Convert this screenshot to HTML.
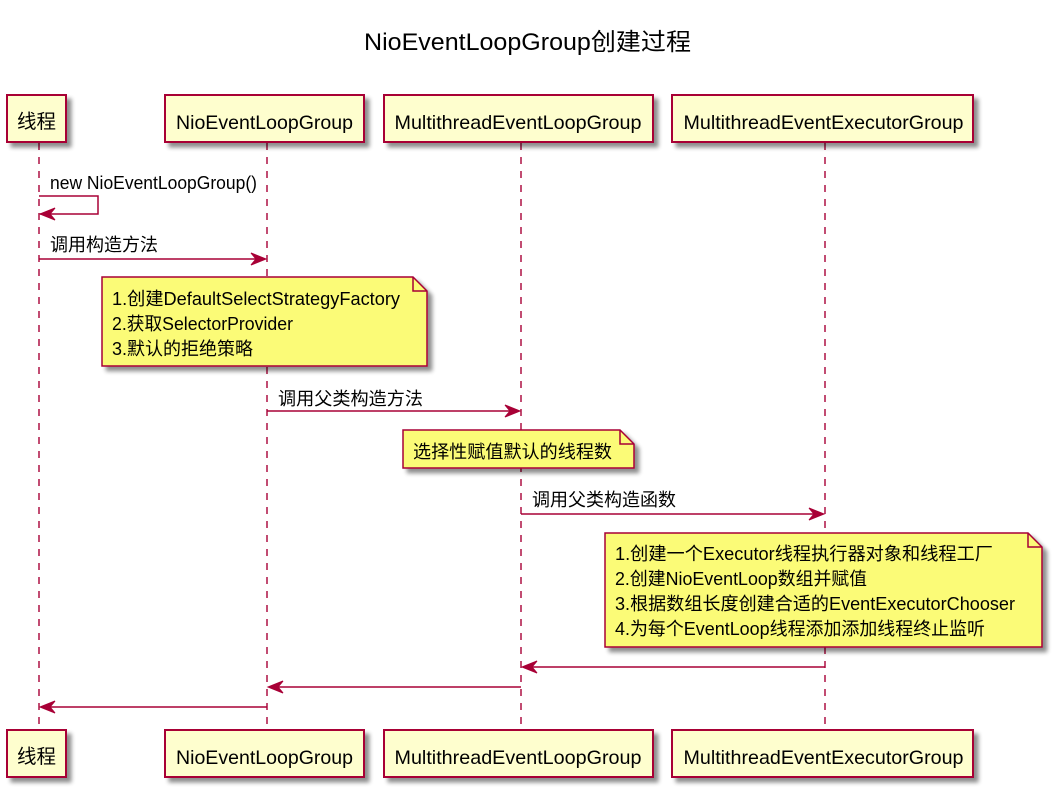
<!DOCTYPE html>
<html><head><meta charset="utf-8"><style>
html,body{margin:0;padding:0;background:#fff;}
svg{display:block;}
text{font-family:"Liberation Sans","Noto Sans CJK SC",sans-serif;fill:#000;}
</style></head><body>
<svg width="1054" height="796" viewBox="0 0 1054 796" xmlns="http://www.w3.org/2000/svg">
<defs>
<filter id="sh" x="-10%" y="-10%" width="130%" height="140%">
<feGaussianBlur in="SourceAlpha" stdDeviation="2.2"/>
<feOffset dx="4.5" dy="4.5" result="b"/>
<feComponentTransfer><feFuncA type="linear" slope="0.45"/></feComponentTransfer>
<feMerge><feMergeNode/><feMergeNode in="SourceGraphic"/></feMerge>
</filter>
</defs>

<text x="364" y="50" font-size="24" textLength="327" lengthAdjust="spacingAndGlyphs">NioEventLoopGroup创建过程</text>

<!-- lifelines -->
<g stroke="#A80036" stroke-width="1.4" stroke-dasharray="7,7" fill="none">
<line x1="39" y1="143" x2="39" y2="730"/>
<line x1="267" y1="143" x2="267" y2="730"/>
<line x1="521" y1="143" x2="521" y2="730"/>
<line x1="825" y1="143" x2="825" y2="730"/>
</g>

<!-- top participants -->
<g fill="#FEFECE" stroke="#A80036" stroke-width="2" filter="url(#sh)">
<rect x="7" y="95" width="59" height="47"/>
<rect x="165" y="95" width="199" height="47"/>
<rect x="384" y="95" width="269" height="47"/>
<rect x="672" y="95" width="301" height="47"/>
</g>
<text x="17" y="128" font-size="19.5" textLength="39" lengthAdjust="spacingAndGlyphs">线程</text>
<text x="176" y="129" font-size="19.5" textLength="177" lengthAdjust="spacingAndGlyphs">NioEventLoopGroup</text>
<text x="394.5" y="129" font-size="19.5" textLength="247" lengthAdjust="spacingAndGlyphs">MultithreadEventLoopGroup</text>
<text x="683.5" y="129" font-size="19.5" textLength="280" lengthAdjust="spacingAndGlyphs">MultithreadEventExecutorGroup</text>

<!-- bottom participants -->
<g fill="#FEFECE" stroke="#A80036" stroke-width="2" filter="url(#sh)">
<rect x="7" y="730" width="59" height="47"/>
<rect x="165" y="730" width="199" height="47"/>
<rect x="384" y="730" width="269" height="47"/>
<rect x="672" y="730" width="301" height="47"/>
</g>
<text x="17" y="763" font-size="19.5" textLength="39" lengthAdjust="spacingAndGlyphs">线程</text>
<text x="176" y="764" font-size="19.5" textLength="177" lengthAdjust="spacingAndGlyphs">NioEventLoopGroup</text>
<text x="394.5" y="764" font-size="19.5" textLength="247" lengthAdjust="spacingAndGlyphs">MultithreadEventLoopGroup</text>
<text x="683.5" y="764" font-size="19.5" textLength="280" lengthAdjust="spacingAndGlyphs">MultithreadEventExecutorGroup</text>

<!-- messages -->
<g stroke="#A80036" stroke-width="1.5" fill="none">
<polyline points="39,196 98,196 98,214 40,214"/>
<line x1="39" y1="259" x2="262" y2="259"/>
<line x1="267" y1="411" x2="516" y2="411"/>
<line x1="521" y1="514" x2="820" y2="514"/>
<line x1="825" y1="667" x2="526" y2="667"/>
<line x1="521" y1="687" x2="272" y2="687"/>
<line x1="267" y1="707" x2="44" y2="707"/>
</g>
<g fill="#A80036" stroke="#A80036" stroke-width="1">
<polygon points="55,208 40,214 55,220 50,214"/>
<polygon points="251,253 266,259 251,265 256,259"/>
<polygon points="505,405 520,411 505,417 510,411"/>
<polygon points="809,508 824,514 809,520 814,514"/>
<polygon points="537,661 522,667 537,673 532,667"/>
<polygon points="283,681 268,687 283,693 278,687"/>
<polygon points="55,701 40,707 55,713 50,707"/>
</g>
<text x="50" y="189" font-size="18" textLength="207" lengthAdjust="spacingAndGlyphs">new NioEventLoopGroup()</text>
<text x="50" y="251" font-size="18" textLength="108" lengthAdjust="spacingAndGlyphs">调用构造方法</text>
<text x="278" y="405" font-size="18" textLength="145" lengthAdjust="spacingAndGlyphs">调用父类构造方法</text>
<text x="532" y="506" font-size="18" textLength="144" lengthAdjust="spacingAndGlyphs">调用父类构造函数</text>

<!-- notes -->
<g fill="#FBFB77" stroke="#A80036" stroke-width="1.5" filter="url(#sh)">
<polygon points="102,277 413,277 427,291 427,366 102,366"/>
<polygon points="403,430 620,430 634,444 634,468 403,468"/>
<polygon points="605,533 1028,533 1042,547 1042,647 605,647"/>
</g>
<g fill="none" stroke="#A80036" stroke-width="1.5">
<polyline points="413,277 413,291 427,291"/>
<polyline points="620,430 620,444 634,444"/>
<polyline points="1028,533 1028,547 1042,547"/>
</g>
<text x="112" y="305" font-size="18" textLength="288" lengthAdjust="spacingAndGlyphs">1.创建DefaultSelectStrategyFactory</text>
<text x="112" y="330" font-size="18" textLength="181" lengthAdjust="spacingAndGlyphs">2.获取SelectorProvider</text>
<text x="112" y="355" font-size="18" textLength="141" lengthAdjust="spacingAndGlyphs">3.默认的拒绝策略</text>

<text x="413" y="458" font-size="18" textLength="199" lengthAdjust="spacingAndGlyphs">选择性赋值默认的线程数</text>

<text x="615" y="560" font-size="18" textLength="378" lengthAdjust="spacingAndGlyphs">1.创建一个Executor线程执行器对象和线程工厂</text>
<text x="615" y="585" font-size="18" textLength="252" lengthAdjust="spacingAndGlyphs">2.创建NioEventLoop数组并赋值</text>
<text x="615" y="610" font-size="18" textLength="400" lengthAdjust="spacingAndGlyphs">3.根据数组长度创建合适的EventExecutorChooser</text>
<text x="615" y="635" font-size="18" textLength="370" lengthAdjust="spacingAndGlyphs">4.为每个EventLoop线程添加添加线程终止监听</text>
</svg>
</body></html>
